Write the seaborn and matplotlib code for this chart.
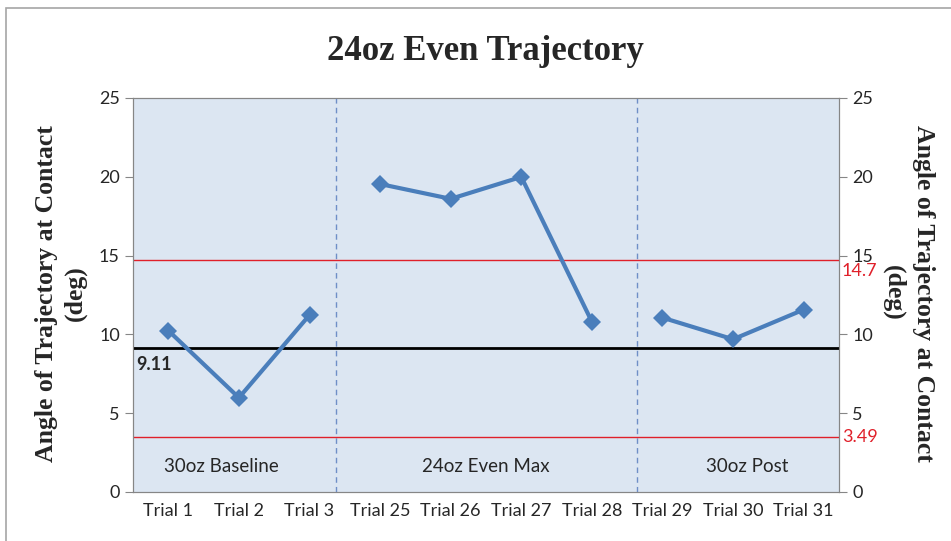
import seaborn as sns
import matplotlib.pyplot as plt
import pandas as pd
import numpy as np
from matplotlib.patches import Rectangle

trials = ['Trial 1', 'Trial 2', 'Trial 3', 'Trial 25', 'Trial 26', 'Trial 27',
          'Trial 28', 'Trial 29', 'Trial 30', 'Trial 31']
angles = [10.24, 5.98, 11.23, 19.54, 18.6, 19.99, 10.8, 11.06, 9.69, 11.57]
phases = ['30oz Baseline'] * 3 + ['24oz Even Max'] * 4 + ['30oz Post'] * 3
phase_names = ['30oz Baseline', '24oz Even Max', '30oz Post']
phase_breaks = [2.375, 6.64]
mean_val = 9.11
upper_val = 14.7
lower_val = 3.49

df = pd.DataFrame({'trial': trials, 'angle': angles, 'phase': phases})
df['pos'] = np.arange(len(df))

sns.set_style('white')
tick_font = 'Lato'
serif = 'Liberation Serif'

fig = plt.figure(figsize=(9.51, 5.41), dpi=100)
ax = fig.add_axes([0.1399, 0.0906, 0.7423, 0.7283])
ax.set_facecolor('#dce6f2')

sns.lineplot(data=df, x='pos', y='angle', units='phase', estimator=None,
             marker='D', markersize=9, color='#4a7ebb', linewidth=3,
             markeredgewidth=0, ax=ax, legend=False, zorder=5)

ax.axhline(mean_val, color='black', linewidth=2, zorder=4)
ax.axhline(upper_val, color='#e0202a', linewidth=1, zorder=4)
ax.axhline(lower_val, color='#e0202a', linewidth=1, zorder=4)
for b in phase_breaks:
    ax.axvline(b, color='#6f8fc7', linewidth=1, linestyle=(0, (4, 3)), zorder=3)

ax.set_xlim(-0.5, len(trials) - 0.5)
ax.set_ylim(0, 25)
ax.set_yticks(range(0, 26, 5))
ax.set_xticks(np.arange(-0.5, len(trials), 1.0))
ax.set_xticklabels([])
ax.set_xticks(np.arange(len(trials)), minor=True)
ax.set_xticklabels(trials, minor=True, fontsize=13, family=tick_font, color='#262626')
ax.tick_params(axis='x', which='major', length=6, color='#868686', direction='out')
ax.tick_params(axis='x', which='minor', length=0, pad=8)
ax.tick_params(axis='y', length=6, color='#868686', direction='out', left=True,
               labelsize=13, labelcolor='#262626')
for lab in ax.get_yticklabels():
    lab.set_family(tick_font)
for s in ax.spines.values():
    s.set_color('#868686')
ax.set_xlabel('')
ax.set_ylabel('')

ax2 = ax.twinx()
ax2.set_ylim(0, 25)
ax2.set_yticks(range(0, 26, 5))
ax2.tick_params(axis='y', length=6, color='#868686', direction='out', right=True,
                labelsize=13, labelcolor='#262626')
for lab in ax2.get_yticklabels():
    lab.set_family(tick_font)
for s in ax2.spines.values():
    s.set_color('#868686')

# axis titles, one text per line as in the reference
label_kw = dict(family=serif, fontweight='bold', fontsize=18.5, ha='center', va='center')
fig.text(0.049, 0.458, 'Angle of Trajectory at Contact', rotation=90, **label_kw)
fig.text(0.079, 0.458, '(deg)', rotation=90, **label_kw)
fig.text(0.971, 0.458, 'Angle of Trajectory at Contact', rotation=270, **label_kw)
fig.text(0.940, 0.458, '(deg)', rotation=270, **label_kw)

# reference line labels
ax.text(-0.45, mean_val - 0.45, f'{mean_val:.2f}', fontsize=13, fontweight='bold',
        family=tick_font, va='top', ha='left')
ax.text(1.004, upper_val - 0.2, f'{upper_val}', transform=ax.get_yaxis_transform(),
        color='#e0202a', fontsize=13, family=tick_font, va='top', ha='left')
ax.text(1.004, lower_val, f'{lower_val}', transform=ax.get_yaxis_transform(),
        color='#e0202a', fontsize=13, family=tick_font, va='center', ha='left')

# phase labels
phase_x = [0.75, 4.5, 8.2]
for name, px in zip(phase_names, phase_x):
    ax.text(px, 1.6, name, fontsize=13.5, family=tick_font, color='#262626',
            ha='center', va='center')

fig.suptitle('24oz Even Trajectory', x=0.51, y=0.935, family=serif,
             fontweight='bold', fontsize=25)

fig.patches.append(Rectangle((0.006, -0.02), 1.1, 1.005, transform=fig.transFigure,
                             fill=False, edgecolor='#a6a6a6', linewidth=1.2))

fig.savefig('out.png', dpi=100)
